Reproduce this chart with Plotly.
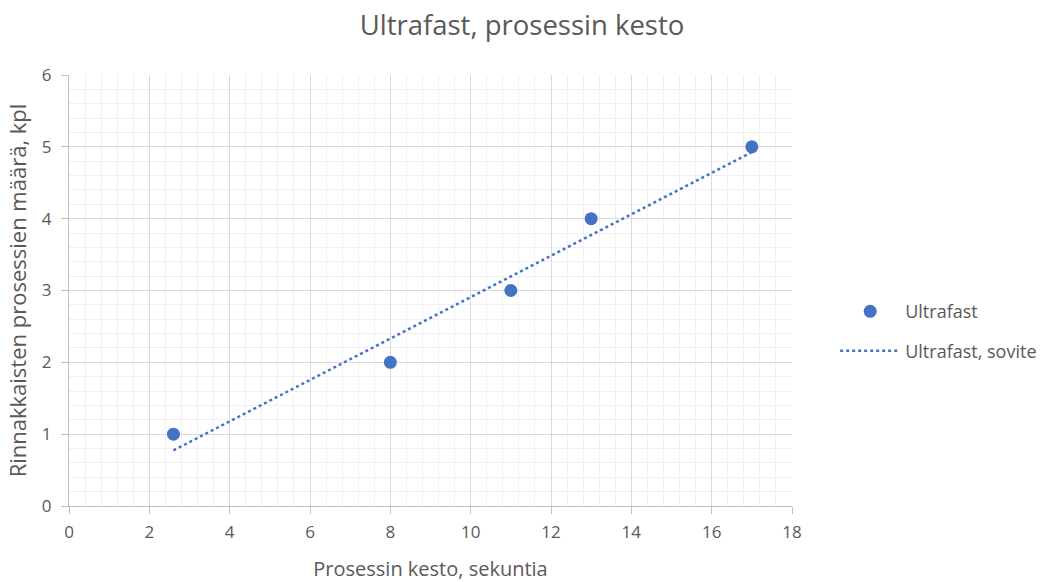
import numpy as np
import plotly.graph_objects as go

# Data
durations = [2.6, 8, 11, 13, 17]
process_counts = [1, 2, 3, 4, 5]
x_ticks = [0, 2, 4, 6, 8, 10, 12, 14, 16, 18]
y_ticks = [0, 1, 2, 3, 4, 5, 6]

# Linear trendline (least squares fit of the data)
slope, intercept = np.polyfit(durations, process_counts, 1)
fit_x = [min(durations), max(durations)]
fit_y = [slope * v + intercept for v in fit_x]

FONT = "Open Sans"
TXT = "#595959"
BLUE = "#4472C4"

fig = go.Figure()
fig.add_trace(go.Scatter(
    x=durations, y=process_counts, mode="markers", name="Ultrafast",
    legendgroup="a",
    marker=dict(color=BLUE, size=13, line=dict(width=0)),
))
fig.add_trace(go.Scatter(
    x=fit_x, y=fit_y, mode="lines", name="Ultrafast, sovite",
    legendgroup="b",
    line=dict(color=BLUE, width=2.5, dash="dot"),
))

axis_common = dict(
    showgrid=True, gridcolor="#d9d9d9", gridwidth=1,
    zeroline=False, showline=True, linecolor="#bfbfbf", linewidth=1,
    ticks="outside", ticklen=7, tickcolor="#bfbfbf",
    tickfont=dict(family=FONT, size=17, color=TXT),
    automargin=False,
)

fig.update_layout(
    width=1044, height=582,
    paper_bgcolor="white", plot_bgcolor="white",
    margin=dict(l=69, r=252, t=75, b=76, autoexpand=False),
    title=dict(text="Ultrafast, prosessin kesto", x=0.5, xref="container",
               xanchor="center", y=0.957, yref="container", yanchor="middle",
               font=dict(family=FONT, size=27.5, color=TXT)),
    xaxis=dict(range=[0, 18], tickvals=x_ticks, **axis_common,
               ticklabelstandoff=4,
               minor=dict(dtick=0.4, showgrid=True, gridcolor="#f0f0f0", gridwidth=1, ticks=""),
               title=dict(text="Prosessin kesto, sekuntia", standoff=24,
                          font=dict(family=FONT, size=20, color=TXT))),
    yaxis=dict(range=[0, 6], tickvals=y_ticks, **axis_common,
               ticklabelstandoff=6,
               minor=dict(dtick=0.2, showgrid=True, gridcolor="#f0f0f0", gridwidth=1, ticks=""),
               title=dict(text="Rinnakkaisten prosessien määrä, kpl", standoff=9,
                          font=dict(family=FONT, size=22, color=TXT))),
    legend=dict(x=0.800, xref="container", y=0.431, yref="container",
                xanchor="left", yanchor="middle",
                font=dict(family=FONT, size=18, color=TXT),
                tracegroupgap=13, itemwidth=60),
    showlegend=True,
)

fig.write_html("out.html", config={"displayModeBar": False},
               post_script="document.body.style.margin='0px';")
